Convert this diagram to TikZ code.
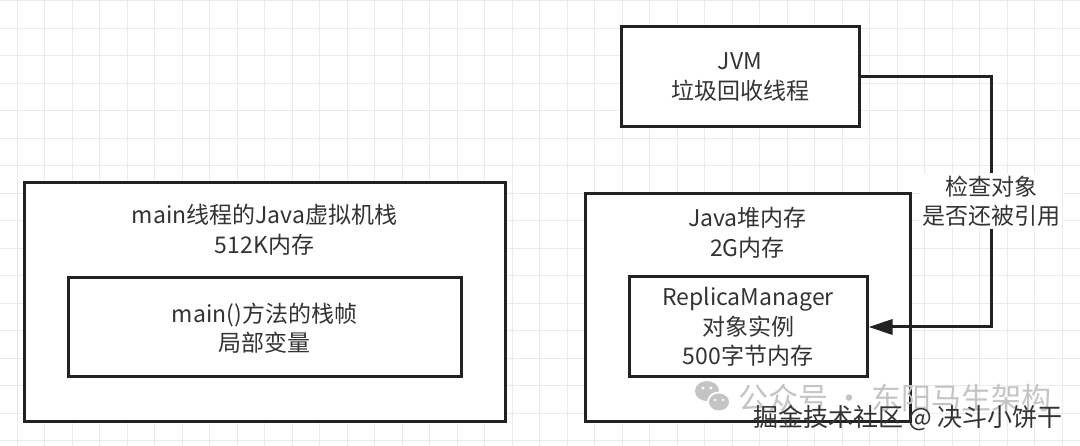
\documentclass[tikz,border=0pt]{standalone}
\usepackage{fontspec}
\setmainfont{Noto Sans CJK SC}
\usetikzlibrary{arrows.meta}
\definecolor{ln}{HTML}{222222}
\definecolor{tx}{HTML}{333333}
\definecolor{gridc}{HTML}{EBEBEB}
\definecolor{wmgray}{HTML}{C4C4C4}
\begin{document}
\begin{tikzpicture}[x=1pt,y=-1pt,
  box/.style={draw=ln,line width=3pt,fill=white,inner sep=0pt},
  lbl/.style={text=tx,font=\fontsize{23}{29.5}\selectfont,align=center,inner sep=0pt},
  conn/.style={draw=ln,line width=3pt},
  wmtext/.style={font=\fontsize{25}{25}\selectfont,inner sep=0pt}
]
\useasboundingbox (0,0) rectangle (1080,446);
\fill[white] (0,0) rectangle (1080,446);
\foreach \i in {0,...,39} \draw[gridc,line width=1pt] ({17+27.5*\i},0) -- ({17+27.5*\i},446);
\foreach \j in {0,...,16} \draw[gridc,line width=1pt] (0,{0.7+27.5*\j}) -- (1080,{0.7+27.5*\j});

% left: stack
\node[box,minimum width=481pt,minimum height=239pt] (stack) at (264.5,302.5) {};
\node[lbl] (stackT) at (264.5,229.5) {main线程的Java虚拟机栈\\512K内存};
\node[box,minimum width=393pt,minimum height=99pt] (frame) at (264.5,327.5) {};
\node[lbl] (frameT) at (264.5,328) {main()方法的栈帧\\局部变量};

% right: heap
\node[box,minimum width=325pt,minimum height=228pt] (heap) at (747.5,308) {};
\node[lbl] (heapT) at (747.5,233) {Java堆内存\\2G内存};
\node[box,minimum width=238pt,minimum height=100pt,lbl] (obj) at (748,327) {ReplicaManager\\对象实例\\500字节内存};

% JVM
\node[box,minimum width=238pt,minimum height=100pt,lbl] (jvm) at (740,77) {JVM\\垃圾回收线程};

% connector
\node[lbl,fill=white,inner sep=2pt] (chk) at (991,201) {检查对象\\是否还被引用};
\draw[conn] (jvm.east) -| (chk.north);
\draw[conn,-{Triangle[length=24pt,width=15pt]}] (chk.south) |- (obj.east);

% watermark
\fill[wmgray] (707,391) ellipse [x radius=12pt, y radius=10pt];
\fill[white] (719,402) ellipse [x radius=12pt, y radius=10.5pt];
\fill[wmgray] (719,402) ellipse [x radius=10pt, y radius=8.5pt];
\fill[white] (703,388) circle (1.6pt) (711,388) circle (1.6pt) (715,400) circle (1.4pt) (723,400) circle (1.4pt);
\node[anchor=west,text=wmgray,font=\fontsize{30}{30}\selectfont,inner sep=0pt] (wm1) at (738,398) {公众号 · 东阳马生架构};
\node[wmtext,text=tx] (wm2) at (908,418) {掘金技术社区 @ 决斗小饼干};
\end{tikzpicture}
\end{document}
